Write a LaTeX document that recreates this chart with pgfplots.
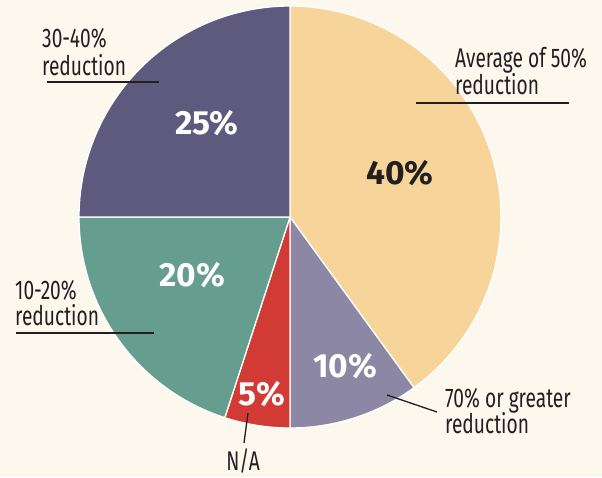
\documentclass[border=0pt]{standalone}
\usepackage{pgfplots}
\pgfplotsset{compat=1.18}
\usepackage{fontspec}
\setmainfont{Fira Sans}
\newfontfamily\labfont[FakeStretch=0.71]{Fira Sans}
\definecolor{bg}{HTML}{FDF8EE}
\definecolor{cA}{HTML}{F7D49A}
\definecolor{cB}{HTML}{8B87A5}
\definecolor{cC}{HTML}{D13A35}
\definecolor{cD}{HTML}{659E8F}
\definecolor{cE}{HTML}{5E5A7E}
\definecolor{txt}{HTML}{231F20}
\newcommand{\pieslice}[3]{%
  \pgfmathsetmacro\aA{90-3.6*(#1)}%
  \pgfmathsetmacro\aB{90-3.6*((#1)+(#2))}%
  \edef\temp{\noexpand\addplot[fill=#3, draw=white, line width=1.3pt, domain=\aA:\aB, samples=90, variable=\noexpand\t]
    ({290+211*cos(\noexpand\t)},{260+211*sin(\noexpand\t)}) -- (axis cs:290,260) -- cycle;}%
  \temp
}
\newcommand{\lab}[3]{\node[anchor=base west, inner sep=0pt, font=\labfont\fontsize{27}{30}\selectfont, text=txt] at (axis cs:#1,477-#2) {#3};}
\newcommand{\pct}[4]{\node[anchor=base, inner sep=0pt, font=\bfseries\fontsize{33.5}{36}\selectfont, text=#4] at (axis cs:#1,477-#2) {#3};}
\begin{document}
\begin{tikzpicture}
\begin{axis}[
  scale only axis, width=602pt, height=477pt,
  xmin=0, xmax=602, ymin=0, ymax=477,
  hide axis, clip=false,
]
\addplot[fill=bg, draw=none] coordinates {(0,0) (602,0) (602,477) (0,477)} -- cycle;
% values: 40, 10, 5, 20, 25 (clockwise from top)
\pieslice{0}{40}{cA}
\pieslice{40}{10}{cB}
\pieslice{50}{5}{cC}
\pieslice{55}{20}{cD}
\pieslice{75}{25}{cE}
% percentage labels
\pct{207}{135}{25\%}{white}
\pct{400}{185}{40\%}{txt}
\pct{192}{287}{20\%}{white}
\pct{345}{377}{10\%}{white}
\pct{262}{405}{5\%}{white}
% category labels
\lab{42}{48}{30-40\%}
\lab{42}{76}{reduction}
\draw[txt, line width=1.3pt] (axis cs:47,477-82) -- (axis cs:159,477-82);
\lab{455}{68}{Average of 50\%}
\lab{455}{95}{reduction}
\draw[txt, line width=1.3pt] (axis cs:416,477-103) -- (axis cs:569,477-103);
\lab{15}{299}{10-20\%}
\lab{15}{325}{reduction}
\draw[txt, line width=1.3pt] (axis cs:16,477-333) -- (axis cs:154,477-333);
\lab{445}{407}{70\% or greater}
\lab{445}{433}{reduction}
\draw[txt, line width=1.3pt] (axis cs:387,477-395) -- (axis cs:437,477-412);
\node[anchor=base, inner sep=0pt, font=\labfont\fontsize{27}{30}\selectfont, text=txt] at (axis cs:243,477-470) {N/A};
\draw[txt, line width=1.3pt] (axis cs:248,477-413) -- (axis cs:244,477-443);
\end{axis}
\end{tikzpicture}
\end{document}
